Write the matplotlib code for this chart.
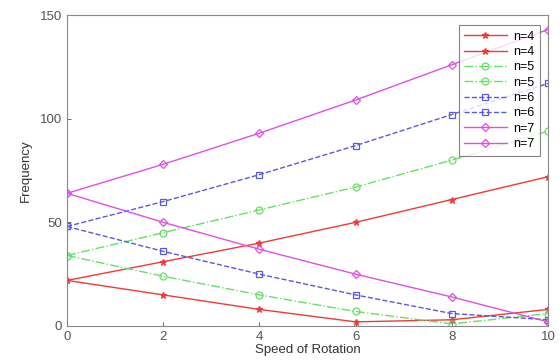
import matplotlib
matplotlib.use("Agg")
import matplotlib.pyplot as plt

plt.rcParams['font.family'] = ['Liberation Sans', 'DejaVu Sans']

speed = [0, 2, 4, 6, 8, 10]
n4_up = [22, 31, 40, 50, 61, 72]
n4_lo = [22, 15, 8, 2, 3, 8]
n5_up = [34, 45, 56, 67, 80, 94]
n5_lo = [34, 24, 15, 7, 1, 6]
n6_up = [48, 60, 73, 87, 102, 117]
n6_lo = [48, 36, 25, 15, 6, 3]
n7_up = [64, 78, 93, 109, 126, 143]
n7_lo = [64, 50, 37, 25, 14, 2]

series = [
    ("n=4", n4_up, "#f03a3a", "-", "*"),
    ("n=4", n4_lo, "#f03a3a", "-", "*"),
    ("n=5", n5_up, "#66e066", "-.", "o"),
    ("n=5", n5_lo, "#66e066", "-.", "o"),
    ("n=6", n6_up, "#5a5ae0", "--", "s"),
    ("n=6", n6_lo, "#5a5ae0", "--", "s"),
    ("n=7", n7_up, "#e050e0", "-", "D"),
    ("n=7", n7_lo, "#e050e0", "-", "D"),
]

fig = plt.figure(figsize=(5.6, 3.64), dpi=100)
ax = fig.add_axes([67/560, 1-326/364, (548-67)/560, (326-15)/364])
for lab, y, c, ls, m in series:
    ax.plot(speed, y, color=c, linestyle=ls, marker=m,
            markersize=5 if m != "D" else 4.5,
            markerfacecolor="none" if m != "*" else c, markeredgewidth=0.9,
            linewidth=1.0, label=lab)

ax.set_xlim(0, 10)
ax.set_ylim(0, 150)
ax.set_xticks([0, 2, 4, 6, 8, 10])
ax.set_yticks([0, 50, 100, 150])
ax.tick_params(direction="in", length=3, labelsize=9.5, colors="#555555", width=0.6)
for s in ax.spines.values():
    s.set_color("#888888")
    s.set_linewidth(0.8)
ax.set_xlabel("Speed of Rotation", fontsize=9.5, color="#333333", labelpad=1)
ax.set_ylabel("Frequency", fontsize=9.5, color="#333333", labelpad=6)
leg = ax.legend(loc="upper right", fontsize=9, frameon=True, fancybox=False,
                edgecolor="#666666", handlelength=3.4, labelspacing=0.27,
                borderpad=0.45, handletextpad=0.5, borderaxespad=0,
                bbox_to_anchor=(0.983, 0.968))
leg.get_frame().set_linewidth(0.8)
fig.savefig("out.png", dpi=100)
